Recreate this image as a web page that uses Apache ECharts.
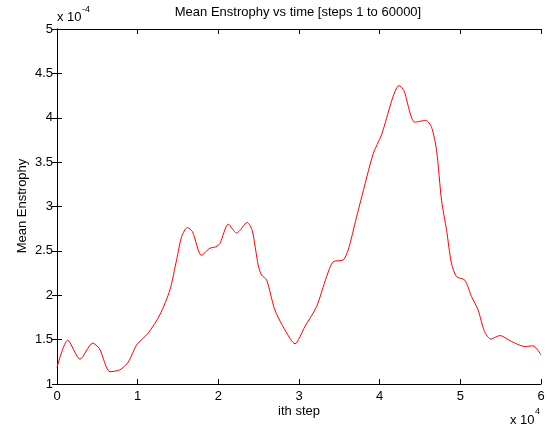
<!DOCTYPE html>
<html>
<head>
<meta charset="utf-8">
<script src="https://cdn.jsdelivr.net/npm/echarts@6/dist/echarts.min.js"></script>
<style>
  html, body { margin: 0; padding: 0; background: #fff; }
  #chart { width: 550px; height: 428px; }
</style>
</head>
<body>
<div id="chart"></div>
<script>
// step (x 10^4) and mean enstrophy (x 10^-4)
var steps = [0, 0.133, 0.285, 0.442, 0.525, 0.657, 0.78, 0.884, 0.987, 1.13, 1.276, 1.4, 1.483, 1.545, 1.615, 1.68, 1.79, 1.896, 1.97, 2.02,
	2.123, 2.227, 2.358, 2.42, 2.494, 2.536, 2.6, 2.7, 2.825, 2.95, 3.073, 3.218, 3.342, 3.424, 3.548, 3.61, 3.714, 3.767, 3.92, 4.02,
	4.242, 4.3, 4.436, 4.572, 4.643, 4.705, 4.767, 4.83, 4.89, 4.953, 5.056, 5.139, 5.22, 5.3, 5.378, 5.49, 5.634, 5.8, 5.9, 6.0];
var enstrophy = [1.187, 1.494, 1.28, 1.46, 1.40, 1.138, 1.16, 1.247, 1.44, 1.573, 1.78, 2.06, 2.40, 2.66, 2.764, 2.715, 2.45, 2.53, 2.546, 2.584,
	2.80, 2.70, 2.82, 2.73, 2.34, 2.228, 2.17, 1.835, 1.61, 1.453, 1.647, 1.872, 2.21, 2.378, 2.397, 2.51, 2.883, 3.07, 3.595, 3.80,
	4.363, 4.307, 3.95, 3.97, 3.895, 3.633, 3.07, 2.73, 2.36, 2.21, 2.17, 1.984, 1.835, 1.59, 1.506, 1.546, 1.479, 1.422, 1.43, 1.33];

var font = 'Liberation Sans, Arial, Helvetica, sans-serif';

var points = [];
for (var i = 0; i < steps.length; i++) {
	points.push([steps[i], enstrophy[i]]);
}

var axisLine = { show: true, lineStyle: { color: '#000', width: 1 } };
var tick = { show: true, inside: true, length: 5, lineStyle: { color: '#000' } };

var chart = echarts.init(document.getElementById('chart'));
chart.setOption({
	animation: false,
	backgroundColor: '#fff',
	grid: { left: 57, right: 9, top: 29, bottom: 44, show: false },
	xAxis: [{
		type: 'value', min: 0, max: 6, interval: 1, position: 'bottom',
		axisLine: axisLine, axisTick: tick, splitLine: { show: false },
		axisLabel: { color: '#000', fontSize: 13, fontFamily: font, margin: 6 }
	}, {
		type: 'value', min: 0, max: 6, interval: 1, position: 'top',
		axisLine: axisLine, axisTick: tick, splitLine: { show: false },
		axisLabel: { show: false }
	}],
	yAxis: [{
		type: 'value', min: 1, max: 5, interval: 0.5, position: 'left',
		axisLine: axisLine, axisTick: tick, splitLine: { show: false },
		axisLabel: { color: '#000', fontSize: 13, fontFamily: font, margin: 4 }
	}, {
		type: 'value', min: 1, max: 5, interval: 0.5, position: 'right',
		axisLine: axisLine, axisTick: tick, splitLine: { show: false },
		axisLabel: { show: false }
	}],
	series: [{
		type: 'line',
		data: points,
		smooth: 0.25,
		showSymbol: false,
		lineStyle: { color: '#ff0000', width: 1 },
		xAxisIndex: 0, yAxisIndex: 0
	}],
	graphic: [
		{ type: 'text', x: 298, y: 12, style: { text: 'Mean Enstrophy vs time [steps 1 to 60000]', fill: '#000', font: '13px ' + font, textAlign: 'center', textVerticalAlign: 'middle' } },
		{ type: 'text', x: 299, y: 411, style: { text: 'ith step', fill: '#000', font: '13px ' + font, textAlign: 'center', textVerticalAlign: 'middle' } },
		{ type: 'text', x: 22, y: 206, rotation: Math.PI / 2, style: { text: 'Mean Enstrophy', fill: '#000', font: '13px ' + font, textAlign: 'center', textVerticalAlign: 'middle' } },
		{ type: 'text', x: 57, y: 17, style: { text: 'x 10', fill: '#000', font: '13px ' + font, textAlign: 'left', textVerticalAlign: 'middle' } },
		{ type: 'text', x: 82, y: 10, style: { text: '-4', fill: '#000', font: '9px ' + font, textAlign: 'left', textVerticalAlign: 'middle' } },
		{ type: 'text', x: 510, y: 420, style: { text: 'x 10', fill: '#000', font: '13px ' + font, textAlign: 'left', textVerticalAlign: 'middle' } },
		{ type: 'text', x: 535, y: 412, style: { text: '4', fill: '#000', font: '9px ' + font, textAlign: 'left', textVerticalAlign: 'middle' } }
	]
});
</script>
</body>
</html>
